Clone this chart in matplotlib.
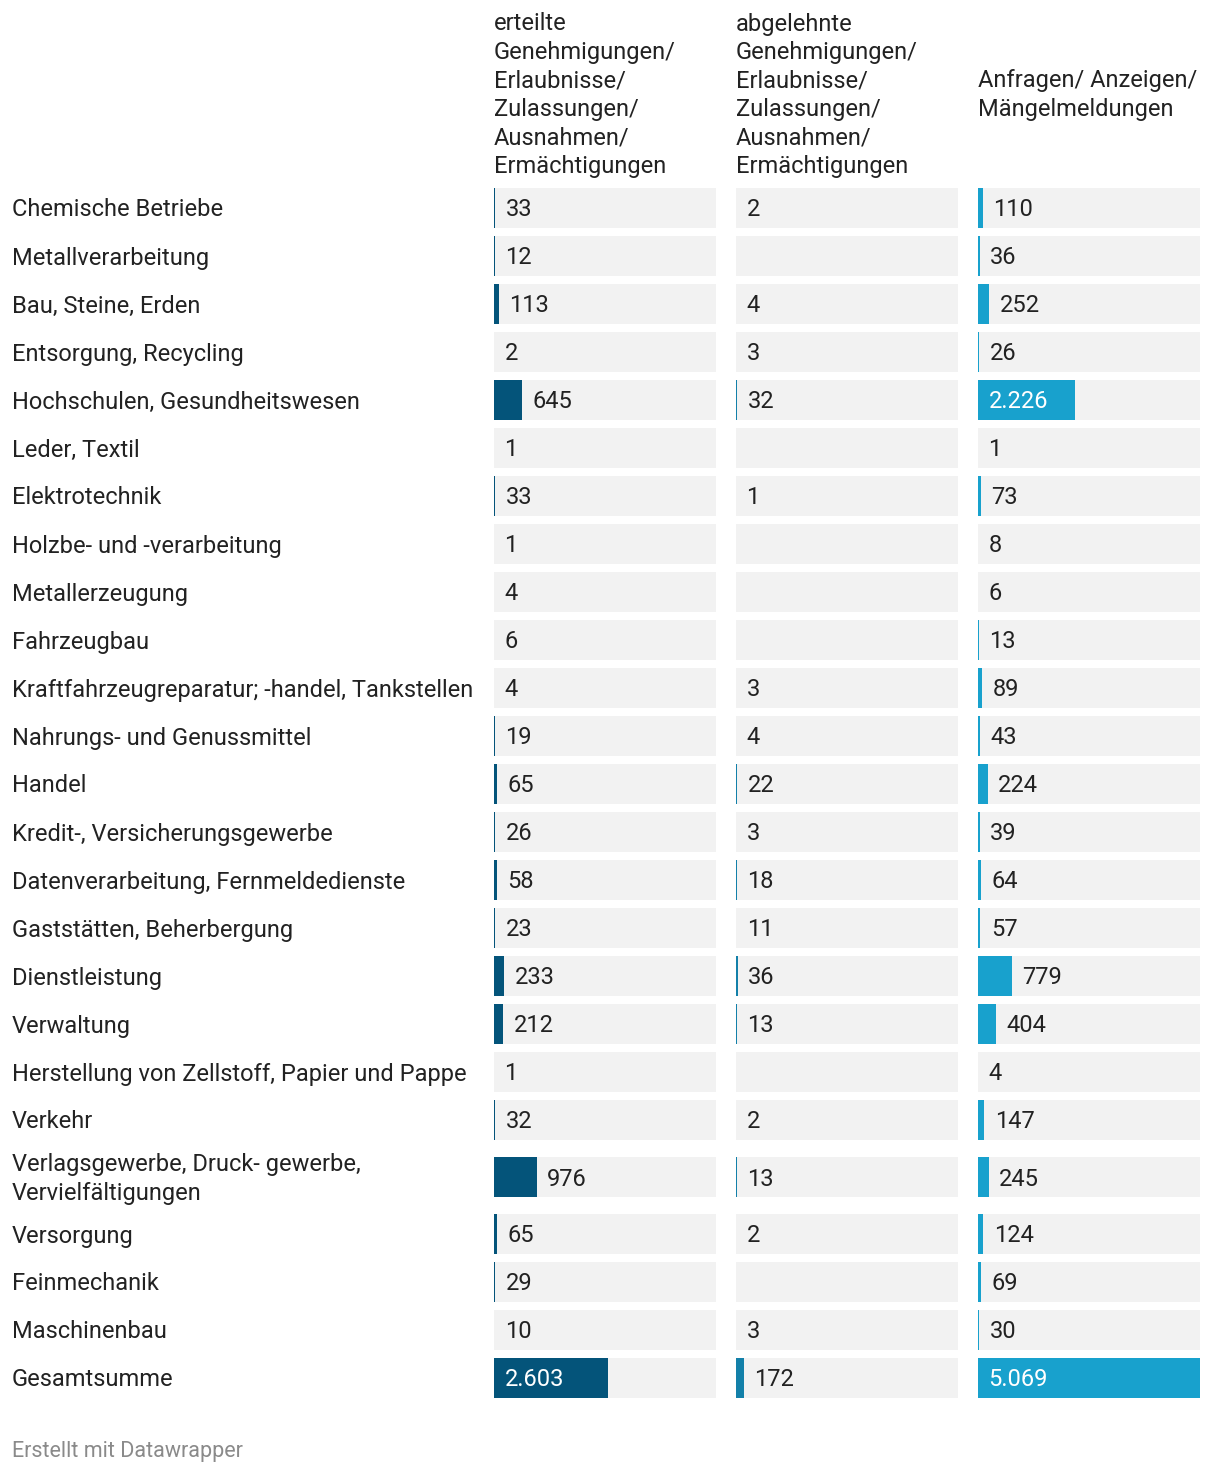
"""Split-bar table (Datawrapper style): three value columns per branch, common scale."""
import matplotlib
matplotlib.use("Agg")
import matplotlib.pyplot as plt
import matplotlib.transforms as mtransforms

plt.rcParams["font.family"] = ["Roboto", "DejaVu Sans"]

categories = [
    "Chemische Betriebe", "Metallverarbeitung", "Bau, Steine, Erden",
    "Entsorgung, Recycling", "Hochschulen, Gesundheitswesen", "Leder, Textil",
    "Elektrotechnik", "Holzbe- und -verarbeitung", "Metallerzeugung", "Fahrzeugbau",
    "Kraftfahrzeugreparatur; -handel, Tankstellen", "Nahrungs- und Genussmittel",
    "Handel", "Kredit-, Versicherungsgewerbe", "Datenverarbeitung, Fernmeldedienste",
    "Gaststätten, Beherbergung", "Dienstleistung", "Verwaltung",
    "Herstellung von Zellstoff, Papier und Pappe", "Verkehr",
    "Verlagsgewerbe, Druck- gewerbe,\nVervielfältigungen", "Versorgung",
    "Feinmechanik", "Maschinenbau", "Gesamtsumme",
]
erteilt = [33, 12, 113, 2, 645, 1, 33, 1, 4, 6, 4, 19, 65, 26, 58, 23, 233, 212,
           1, 32, 976, 65, 29, 10, 2603]
abgelehnt = [2, None, 4, 3, 32, None, 1, None, None, None, 3, 4, 22, 3, 18, 11, 36,
             13, None, 2, 13, 2, None, 3, 172]
anfragen = [110, 36, 252, 26, 2226, 1, 73, 8, 6, 13, 89, 43, 224, 39, 64, 57, 779,
            404, 4, 147, 245, 124, 69, 30, 5069]

headers = [
    "erteilte\nGenehmigungen/\nErlaubnisse/\nZulassungen/\nAusnahmen/\nErmächtigungen",
    "abgelehnte\nGenehmigungen/\nErlaubnisse/\nZulassungen/\nAusnahmen/\nErmächtigungen",
    "Anfragen/ Anzeigen/\nMängelmeldungen",
]
series = [erteilt, abgelehnt, anfragen]
colors = ["#04547a", "#1380a9", "#18a1cd"]

W, H = 1220, 1474
TEXT = "#222222"
FS = 17


def fmt(v):
    return f"{v:,}".replace(",", ".")


fig = plt.figure(figsize=(W / 100, H / 100), dpi=100)
renderer = fig.canvas.get_renderer()

# row slots (px): 48 per row, taller for two-line labels
slots = [66 if "\n" in c else 48 for c in categories]
centers, top = [], 0
for s in slots:
    centers.append(top + s / 2)
    top += s
total_h = top
TXT_DY = 2  # nudge text down a little so it sits centred like the original

vmax = max(max(v for v in s if v is not None) for s in series)
col_left = [494, 736, 978]
col_w = 222
ax_top = 184

axes = []
for j, (vals, color) in enumerate(zip(series, colors)):
    ax = fig.add_axes([col_left[j] / W, 1 - (ax_top + total_h) / H, col_w / W, total_h / H])
    ax.set_xlim(0, vmax)
    ax.set_ylim(total_h, 0)
    ax.axis("off")
    ax.barh(centers, [vmax] * len(centers), height=40, color="#f2f2f2", zorder=1)
    for y, v in zip(centers, vals):
        if v is None:
            continue
        ax.barh(y, v, height=40, color=color, zorder=2)
        label = fmt(v)
        # label goes inside (white) only if it fits with padding
        t = ax.text(0, y, label, fontsize=FS)
        lw = t.get_window_extent(renderer).width
        t.remove()
        bar_px = ax.transData.transform((v, 0))[0] - ax.transData.transform((0, 0))[0]
        if bar_px > lw + 20:
            ax.annotate(label, (0, y + TXT_DY), xytext=(7.5, 0), textcoords="offset points",
                        fontsize=FS, va="center", ha="left", color="white", zorder=3)
        else:
            ax.annotate(label, (v, y + TXT_DY), xytext=(7.5, 0), textcoords="offset points",
                        fontsize=FS, va="center", ha="left", color=TEXT, zorder=3)
    fig.text(col_left[j] / W, 1 - 95 / H, headers[j], fontsize=FS, color=TEXT,
             va="center", ha="left", linespacing=1.3)
    axes.append(ax)

# category labels on the left
trans = mtransforms.blended_transform_factory(fig.transFigure, axes[0].transData)
for y, c in zip(centers, categories):
    axes[0].text(12 / W, y + TXT_DY, c, transform=trans, fontsize=FS, color=TEXT,
                 va="center", ha="left", linespacing=1.3, clip_on=False)

fig.text(12 / W, 1 - 1451 / H, "Erstellt mit Datawrapper", fontsize=15.5,
         color="#8a8a8a", va="center", ha="left")

fig.savefig("out.png", dpi=100, facecolor="white")
plt.close(fig)
